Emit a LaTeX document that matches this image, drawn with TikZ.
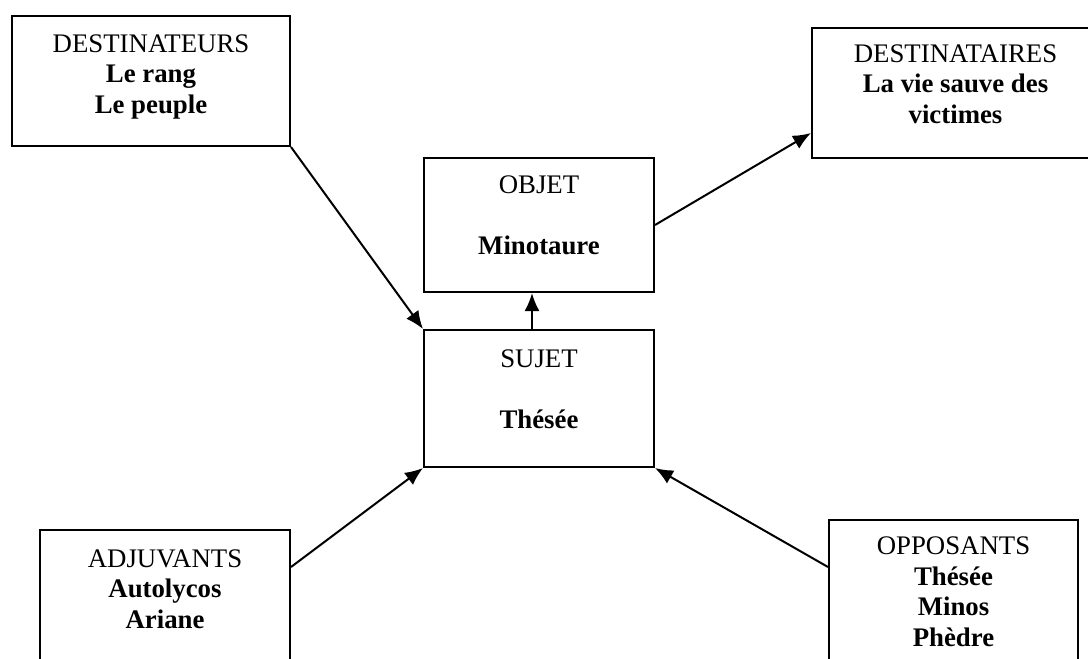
\documentclass[tikz,border=0pt]{standalone}
\usepackage{fontspec}
\setmainfont{Liberation Serif}
\usetikzlibrary{arrows.meta}
\usetikzlibrary{positioning}

\begin{document}
\begin{tikzpicture}[x=0.5pt,y=-0.5pt,>={Latex[length=9pt,width=7.5pt]},line width=1pt,
  actant/.style={draw,anchor=north,align=center,inner ysep=0pt,inner xsep=2pt,
    font=\fontsize{13.4}{15.25}\selectfont}]
\useasboundingbox (0,0) rectangle (1088,659);
\path node[actant,minimum width=139pt,text height=48.5pt,text depth=16.5pt] (destinateurs) at (151,15) {DESTINATEURS\\\textbf{Le rang}\\\textbf{Le peuple}};
\path node[actant,minimum width=143.5pt,text height=47.5pt,text depth=17.5pt] (destinataires) at (955.5,27) {DESTINATAIRES\\\textbf{La vie sauve des}\\\textbf{victimes}};
\path node[actant,minimum width=115pt,text height=48pt,text depth=19pt] (objet) at (539,157) {OBJET\\[15.25pt]\textbf{Minotaure}};
\path node[actant,minimum width=115pt,text height=49pt,text depth=19.5pt] (sujet) at (539,329) {SUJET\\[15.25pt]\textbf{Thésée}};
\path node[actant,minimum width=125pt,text height=49pt,text depth=30pt] (adjuvants) at (165,529) {ADJUVANTS\\\textbf{Autolycos}\\\textbf{Ariane}};
\path node[actant,minimum width=124.5pt,text height=63pt,text depth=20pt] (opposants) at (953.5,519) {OPPOSANTS\\\textbf{Thésée}\\\textbf{Minos}\\\textbf{Phèdre}};
% fleches vers le sujet
\path[->] (destinateurs.south east) edge (sujet.north west);
\path[->] ([yshift=-19pt]adjuvants.north east) edge (sujet.south west);
\path[->] ([yshift=-24pt]opposants.north west) edge (sujet.south east);
\path[->] ([xshift=-3.5pt]sujet.north) edge ([xshift=-3.5pt]objet.south);
\path[->] (objet.east) edge ([yshift=-20pt]destinataires.west);
\end{tikzpicture}
\end{document}
